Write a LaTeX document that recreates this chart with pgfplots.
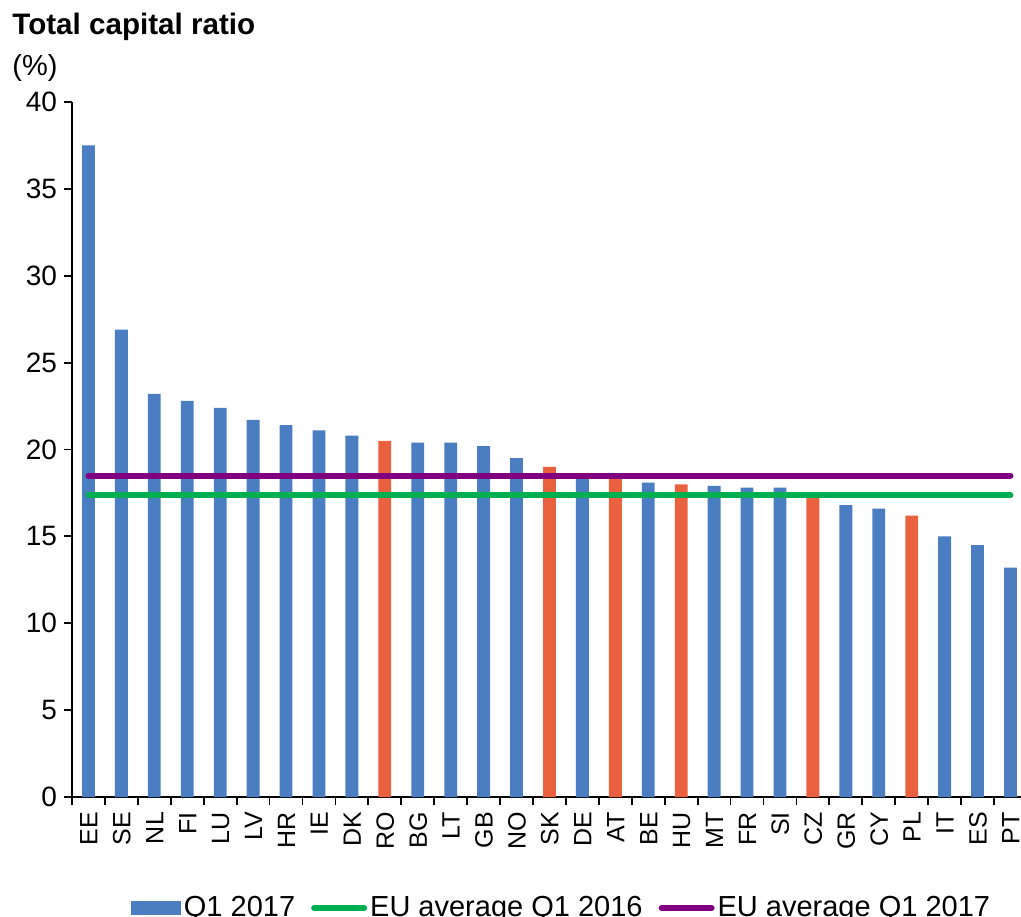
\documentclass[border=0pt]{standalone}
\usepackage{fontspec}
\setmainfont{Liberation Sans}
\usepackage{pgfplots}
\pgfplotsset{compat=1.18}
\definecolor{barblue}{RGB}{74,126,193}
\definecolor{barorange}{RGB}{234,97,63}
\definecolor{eugreen}{RGB}{0,176,80}
\definecolor{eupurple}{RGB}{128,0,128}
\begin{document}
\begin{tikzpicture}
\begin{axis}[
  at={(0,0)}, anchor=south west,
  scale only axis, width=474.5pt, height=347.5pt,
  xmin=-0.5, xmax=28.32, ymin=0, ymax=40,
  axis lines=left, axis line style={-, line width=0.9pt, black},
  ytick={0,5,...,40},
  xtick={-0.5,0.5,...,27.5},
  xticklabels={},
  extra x ticks={0,...,28},
  extra x tick labels={EE,SE,NL,FI,LU,LV,HR,IE,DK,RO,BG,LT,GB,NO,SK,DE,AT,BE,HU,MT,FR,SI,CZ,GR,CY,PL,IT,ES,PT},
  extra x tick style={major tick length=0pt, xticklabel shift=4pt, tick label style={rotate=90, anchor=east, text height=9pt, text depth=0pt, inner ysep=0.5pt, font=\fontsize{12.5}{12.5}\selectfont}},
  y tick label style={font=\fontsize{14}{14}\selectfont},
  /pgf/number format/assume math mode=true,
  tick align=outside,
  major tick length=4pt,
  tick style={black, line width=0.9pt},
  legend columns=-1,
  legend style={at={(0,0)}, anchor=center, xshift=245pt, yshift=-55.5pt, draw=none, fill=none,
    font=\fontsize{14.5}{14.5}\selectfont,
    /tikz/every even column/.append style={column sep=6.5pt},
    nodes={inner sep=1.5pt}},
]
\addplot[ybar, bar width=0.39, bar shift=0pt, fill=barblue, draw=none,
  legend image code/.code={\fill[barblue] (0pt,-3.5pt) rectangle (25pt,3.5pt);}]
  coordinates {(0,37.5) (1,26.9) (2,23.2) (3,22.8) (4,22.4) (5,21.7) (6,21.4) (7,21.1) (8,20.8)
  (10,20.4) (11,20.4) (12,20.2) (13,19.5) (15,18.6) (17,18.1) (19,17.9) (20,17.8) (21,17.8)
  (23,16.8) (24,16.6) (26,15.0) (27,14.5) (28,13.2)};
\addlegendentry{Q1 2017}
\addplot[ybar, bar width=0.39, bar shift=0pt, fill=barorange, draw=none, forget plot]
  coordinates {(9,20.5) (14,19.0) (16,18.5) (18,18.0) (22,17.4) (25,16.2)};
\addplot[eugreen, line width=3pt, line cap=round,
  legend image code/.code={\draw[eugreen, line width=3pt, line cap=round] (1.5pt,0pt) -- (26.5pt,0pt);}]
  coordinates {(0,17.36) (28,17.36)};
\addlegendentry{EU average Q1 2016}
\addplot[eupurple, line width=3pt, line cap=round,
  legend image code/.code={\draw[eupurple, line width=3pt, line cap=round] (1.5pt,0pt) -- (26.5pt,0pt);}]
  coordinates {(0,18.5) (28,18.5)};
\addlegendentry{EU average Q1 2017}
\end{axis}
\node[anchor=base west, font=\bfseries\fontsize{14.8}{14.8}\selectfont, inner sep=0pt] at (-30pt,381pt) {Total capital ratio};
\node[anchor=base west, font=\fontsize{14.5}{14.5}\selectfont, inner sep=0pt] at (-30pt,360.5pt) {(\%)};
\pgfresetboundingbox
\useasboundingbox (-36pt,-59.5pt) rectangle (474.5pt,398.5pt);
\end{tikzpicture}
\end{document}
